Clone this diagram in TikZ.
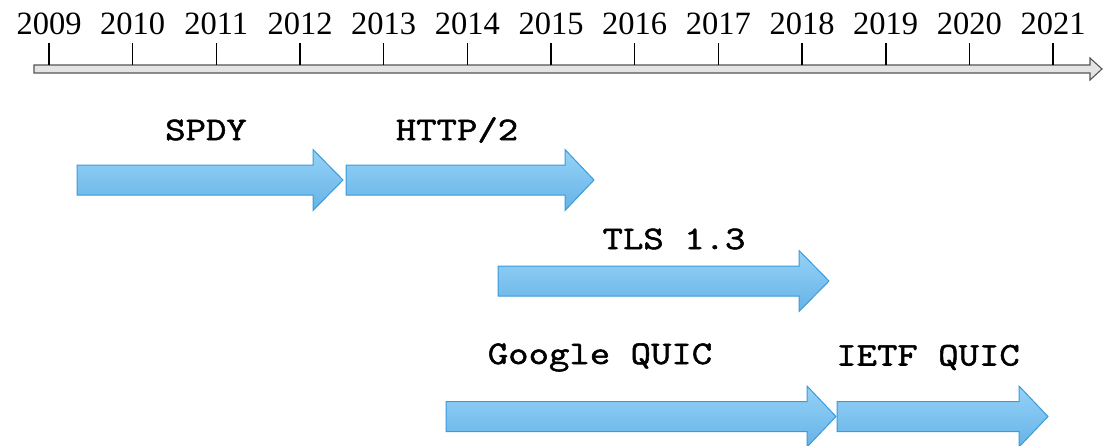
\documentclass[tikz,border=0pt]{standalone}
\usepackage{fontspec}
\setmainfont{Liberation Serif}
\newfontfamily\labfont{Latin Modern Mono}[FakeBold=1.6, FakeStretch=1.2]
\definecolor{arrowtop}{HTML}{95D2F7}
\definecolor{arrowbot}{HTML}{66B3E7}
\definecolor{arrowedge}{HTML}{3A9BDB}
\definecolor{axisfill}{HTML}{E4E4E4}
\definecolor{axisedge}{HTML}{555555}
\tikzset{
  yearlabel/.style={inner sep=0pt, font=\fontsize{32.5}{36}\selectfont, text=black},
  ticktick/.style={line width=1.6pt, black},
  axisbar/.style={draw=axisedge, fill=axisfill, line width=1.1pt, line join=miter},
  blockarr/.style={draw=arrowedge, top color=arrowtop, bottom color=arrowbot, line width=1pt, line join=miter},
  arrlabel/.style={inner sep=0pt, font=\labfont\fontsize{33}{38}\selectfont, text=black}
}
\newcommand\blockarrow[5]{% name, start, headstart, tip, yc
  \draw[blockarr] (#2,#5-15) -- (#3,#5-15) -- (#3,#5-30.5) -- (#4,#5) -- (#3,#5+30.5) -- (#3,#5+15) -- (#2,#5+15) -- cycle;
  \coordinate (#1) at ({(#2+#4)/2},#5);
}
\begin{document}
\begin{tikzpicture}[x=1pt,y=-1pt]
\useasboundingbox (0,0) rectangle (1103,445);
% axis
\draw[axisbar] (34,65) -- (1090,65) -- (1090,58) -- (1102,69) -- (1090,80) -- (1090,73) -- (34,73) -- cycle;
\foreach \yr [count=\i from 0] in {2009,...,2021}{
  \coordinate (t\yr) at ({49+\i*83.67},65);
  \node[yearlabel] (y\yr) at ({49+\i*83.67},23.5) {\yr};
  \draw[ticktick] (y\yr.south |- 0,43) -- (t\yr);
}
% arrows
\blockarrow{spdy}{77}{313}{343}{180}
\blockarrow{http}{346}{565}{594}{180}
\blockarrow{tls}{498}{799}{829}{281}
\blockarrow{gquic}{446}{807}{836}{416.5}
\blockarrow{iquic}{837}{1019}{1048}{416.5}
% labels
\node[arrlabel] (lspdy) at (206,130) {SPDY};
\node[arrlabel] (lhttp) at (457,130) {HTTP/2};
\node[arrlabel] (ltls) at (674,239) {TLS 1.3};
\node[arrlabel] (lgquic) at (600,357.5) {Google QUIC};
\node[arrlabel] (liquic) at (928,357.5) {IETF QUIC};
\end{tikzpicture}
\end{document}
